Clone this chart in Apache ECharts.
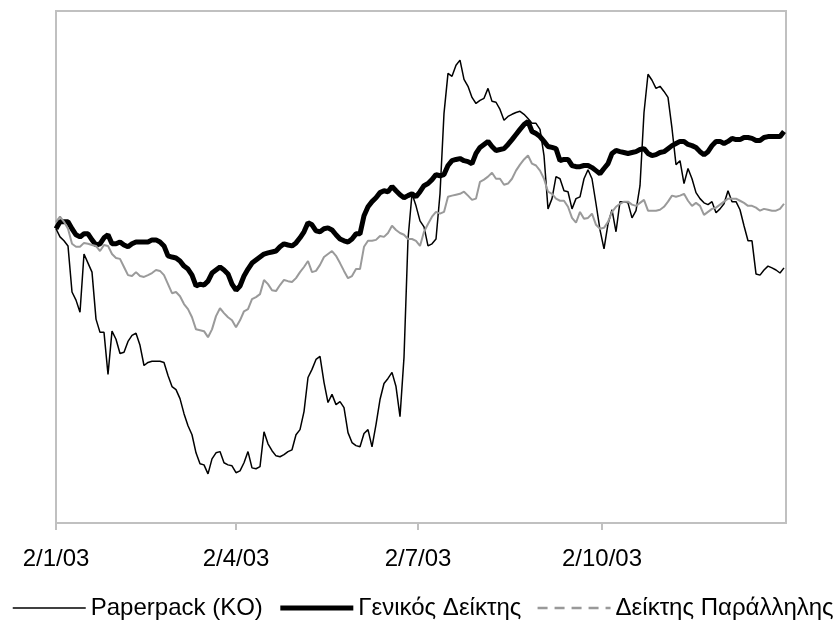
<!DOCTYPE html>
<html>
<head>
<meta charset="utf-8">
<script src="https://cdn.jsdelivr.net/npm/echarts@6/dist/echarts.min.js"></script>
<style>
  html, body { margin: 0; padding: 0; background: #fff; }
  #chart { width: 835px; height: 639px; }
</style>
</head>
<body>
<div id="chart"></div>
<script>
// one reading every 2 calendar days, starting 2 Jan 2003 (x = days since that date)
var firstDay = [2003, 0, 2];
var stepDays = 2;

var seriesNames = ['Paperpack (KO)', 'Γενικός Δείκτης', 'Δείκτης Παράλληλης'];

var paperpack = [
  97.7, 95, 93.7, 92, 76.7, 74, 70, 89.3, 86.3, 83.3,
  67.7, 63.3, 63.3, 49.3, 63.7, 61, 56.3, 56.7, 60.3, 62.3,
  63, 59, 52.3, 53.3, 53.7, 53.7, 53.7, 53.3, 49, 45.3,
  44.3, 41.3, 36.3, 32.3, 29.3, 23.3, 19.7, 19.3, 16.3, 21.3,
  23.3, 23.7, 20, 19.3, 19, 16.7, 17.3, 20, 23.7, 18.3,
  18, 18.7, 30.3, 26.3, 24, 22.3, 22, 22.7, 23.7, 24.3,
  29.3, 31, 37, 48.3, 51, 54.3, 55.3, 46.7, 40, 42.7,
  39.3, 40.3, 38.3, 30, 26.7, 25.7, 25.3, 29.7, 31, 25.3,
  32.7, 41, 46.3, 48, 50, 45.3, 35.3, 55, 94.3, 109.3,
  105.3, 100.3, 98.3, 92, 92.7, 94.3, 109.3, 136, 149.3, 148.3,
  152, 153.7, 147.3, 145, 141.3, 139.3, 140.3, 141, 144.3, 140,
  139.7, 137.3, 133.7, 135, 135.7, 136.3, 136.7, 135.7, 134.3, 132.7,
  132.7, 130.7, 122, 104.3, 107.7, 115, 114.3, 110.3, 110, 104.3,
  107.7, 108.3, 114.3, 117.3, 114.3, 106, 97.3, 91, 99.3, 104,
  96.7, 106.7, 106.7, 106.3, 101.3, 103.7, 112, 136.3, 149, 147,
  144.3, 145, 143.3, 141.3, 131, 119, 120.3, 112.7, 117.7, 114.3,
  109.7, 107.7, 106.3, 105.7, 106.7, 103, 104.3, 106, 110.3, 106.7,
  106.7, 104, 98.7, 93.7, 93.7, 82.7, 82.3, 84, 85.3, 84.7,
  84, 83, 84.7
];

var generalIndex = [
  97.7, 100, 100, 100, 97.7, 95.7, 95, 96, 96, 94,
  92.3, 92.7, 94.7, 95.7, 92.7, 92.7, 93.3, 92.3, 91.7, 92.7,
  93.3, 93.3, 93.3, 93.3, 94, 94, 93.3, 92, 88.7, 88.3,
  88, 87, 85.3, 84.3, 82.3, 78.7, 79.3, 79, 80.3, 83,
  84, 85, 84, 82.7, 79.3, 77.3, 78.7, 82, 84.3, 86.3,
  87.3, 88.3, 89.3, 89.7, 90, 90.3, 91.7, 92.7, 92.3, 92,
  93, 94.7, 96.7, 99.7, 99, 97, 96.7, 97.7, 98, 97.3,
  95.7, 94.3, 93.7, 93.3, 94.3, 96, 96, 102, 105, 106.7,
  108, 109.7, 110.3, 110, 111.7, 110.3, 109, 108, 108.7, 109.3,
  108.3, 110, 112, 112.7, 114, 115.7, 115.3, 115.7, 118.7, 120.3,
  120.7, 121, 120.3, 120, 119.3, 122.7, 124.7, 125.7, 126.7, 125,
  123.7, 124, 124.3, 125.7, 127.3, 129, 130.7, 132.3, 133.3, 130,
  129.3, 128.3, 126.7, 125, 124.7, 124.3, 120.3, 120.7, 120.7, 118.7,
  118.3, 118.3, 118.7, 118.7, 118, 117, 116, 117.7, 119.3, 122.7,
  123.7, 123.3, 123, 122.7, 123, 123.3, 124, 124.3, 122.7, 122,
  122.3, 123, 123.3, 124.3, 125.3, 126, 126.7, 126.7, 125.7, 125.3,
  124.7, 123.3, 122.3, 123.3, 125.3, 126.7, 126.7, 126, 126.7, 127.7,
  127.3, 127.3, 128, 128, 127.7, 127, 127, 128, 128.3, 128.3,
  128.3, 128.3, 130
];

var parallelIndex = [
  100, 101.7, 100, 97.7, 92.7, 91.7, 91.7, 93, 92.7, 92.3,
  92, 90.3, 92.3, 92, 89.3, 88, 87.7, 85, 82.3, 82,
  83.3, 82, 81.7, 82.3, 83, 84, 83.7, 82.3, 79.3, 76.3,
  76.7, 75.3, 72.7, 71, 68.3, 64.3, 64, 63.7, 61.7, 64.3,
  68.7, 71.3, 69.7, 68.3, 67.3, 65, 67.3, 70.3, 71, 74.3,
  75, 76, 80.7, 79.3, 77.3, 77, 79, 80.7, 80.3, 80,
  81.3, 83.3, 85, 87, 83.3, 83.7, 85.7, 88.3, 89.3, 90.3,
  88.7, 86.3, 83.7, 81.3, 82, 84.3, 84.3, 91.7, 93.7, 93.7,
  94, 95.3, 95, 96.3, 98.7, 97.3, 96.3, 95.7, 94.3, 94.3,
  93.7, 92, 96.7, 99.3, 101.7, 103.3, 102.7, 103.3, 108.3, 108.7,
  109, 109.3, 110, 108.7, 107.3, 107.7, 113.3, 114, 115, 116.3,
  114.3, 114.3, 112.3, 112.7, 114.3, 117, 119, 120.7, 122, 119.3,
  118.7, 117, 114.3, 110, 109.3, 107.7, 107, 107, 105, 101.3,
  99.7, 103.3, 101, 101.3, 102.7, 99, 97.7, 98, 100, 103.3,
  105, 106, 106.7, 106.7, 105.7, 105.3, 106.3, 107.3, 103.7, 103.7,
  103.7, 104, 105, 106.7, 108.7, 108.3, 108.7, 109.3, 107, 105.3,
  106.3, 105.3, 102.3, 103.3, 104.3, 104.7, 105.7, 106.7, 107.7, 107.7,
  107.7, 107, 106.3, 105.3, 105.3, 104.7, 103.7, 104.3, 104, 103.7,
  103.7, 104.3, 106
];

var tickDates = [[2003, 0, 2], [2003, 3, 2], [2003, 6, 2], [2003, 9, 2]];
var tickLabels = ['2/1/03', '2/4/03', '2/7/03', '2/10/03'];
var axisEnd = [2004, 0, 2];

var DAY = 24 * 3600 * 1000;
function dayOffset(d) {
  return Math.round((Date.UTC(d[0], d[1], d[2]) - Date.UTC(firstDay[0], firstDay[1], firstDay[2])) / DAY);
}

function withDays(values) {
  return values.map(function (v, i) {
    return [i * stepDays, v];
  });
}

var tickDays = tickDates.map(dayOffset);

var chart = echarts.init(document.getElementById('chart'), null, { renderer: 'canvas' });

var font = 'Liberation Sans, Arial, sans-serif';

var option = {
  animation: false,
  backgroundColor: '#fff',
  textStyle: { fontFamily: font },
  grid: {
    left: 56,
    right: 49,
    top: 11,
    bottom: 116,
    show: true,
    borderColor: '#c0c0c0',
    borderWidth: 2
  },
  legend: {
    left: 7,
    top: 591,
    width: 900,
    itemWidth: 73,
    itemHeight: 14,
    itemGap: 15,
    itemStyle: { opacity: 0 },
    textStyle: { fontSize: 24, color: '#000', fontFamily: font },
    data: [
      { name: seriesNames[0], lineStyle: { width: 1.5, color: '#000' } },
      { name: seriesNames[1], lineStyle: { width: 5, color: '#000' } },
      { name: seriesNames[2], lineStyle: { type: [10, 7], width: 2.5, color: '#999' } }
    ]
  },
  xAxis: {
    type: 'value',
    min: 0,
    max: dayOffset(axisEnd),
    axisLine: { lineStyle: { color: '#c0c0c0', width: 2 } },
    axisTick: {
      customValues: tickDays,
      length: 7,
      lineStyle: { color: '#c0c0c0', width: 2 }
    },
    axisLabel: {
      customValues: tickDays,
      margin: 24,
      fontSize: 24,
      color: '#000',
      fontFamily: font,
      formatter: function (val) {
        var i = tickDays.indexOf(val);
        return i >= 0 ? tickLabels[i] : '';
      }
    },
    splitLine: { show: false }
  },
  yAxis: {
    type: 'value',
    min: 0,
    max: 170,
    show: false,
    splitLine: { show: false }
  },
  series: [
    {
      name: seriesNames[0],
      type: 'line',
      data: withDays(paperpack),
      symbol: 'none',
      lineStyle: { color: '#000', width: 1.5 },
      itemStyle: { color: '#000' }
    },
    {
      name: seriesNames[1],
      type: 'line',
      data: withDays(generalIndex),
      symbol: 'none',
      lineStyle: { color: '#000', width: 5 },
      itemStyle: { color: '#000' }
    },
    {
      name: seriesNames[2],
      type: 'line',
      data: withDays(parallelIndex),
      symbol: 'none',
      lineStyle: { color: '#9a9a9a', width: 2 },
      itemStyle: { color: '#9a9a9a' }
    }
  ]
};

chart.setOption(option);
window.addEventListener('resize', chart.resize);
</script>
</body>
</html>
